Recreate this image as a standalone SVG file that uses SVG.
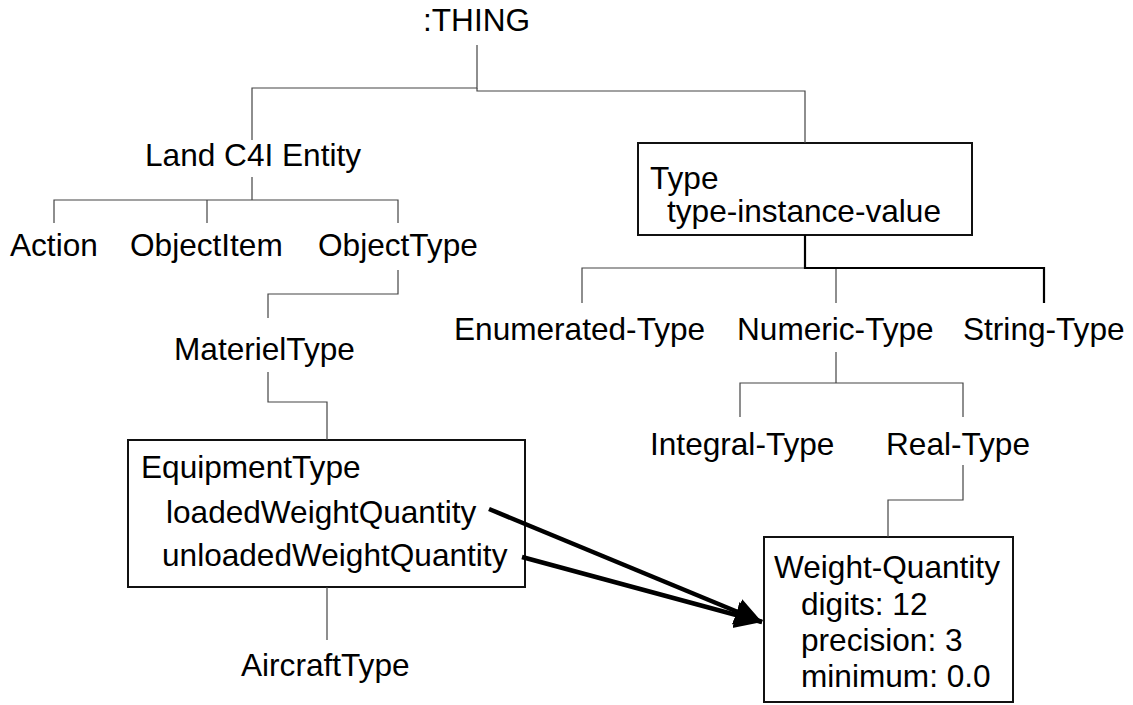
<svg xmlns="http://www.w3.org/2000/svg" width="1133" height="705" viewBox="0 0 1133 705">
  <style>
    text { font-family: "Liberation Sans", Arial, sans-serif; font-size: 31.6px; fill: #000; }
    .thin { fill: none; stroke: #444; stroke-width: 1.2; }
    .bold { fill: none; stroke: #000; stroke-width: 2.2; }
    .box { fill: #fff; stroke: #111; stroke-width: 2; }
    .ref { fill: none; stroke: #000; stroke-width: 4.5; }
  </style>
  <defs>
    <marker id="head" viewBox="0 0 10 10" refX="10" refY="5" markerWidth="6" markerHeight="6.5" markerUnits="strokeWidth" orient="auto">
      <path d="M0,0 L10,5 L0,10 Z" fill="#000"/>
    </marker>
  </defs>

  <rect width="1133" height="705" fill="#fff"/>

  <g id="thing"><text x="423" y="31">:THING</text></g>
  <g id="land-c4i-entity"><text x="145" y="166">Land C4I Entity</text></g>
  <g id="action"><text x="10" y="256">Action</text></g>
  <g id="object-item"><text x="130" y="256">ObjectItem</text></g>
  <g id="object-type"><text x="318" y="256">ObjectType</text></g>
  <g id="materiel-type"><text x="174" y="360">MaterielType</text></g>

  <g id="equipment-type">
    <rect class="box" x="128" y="440" width="397" height="147"/>
    <text x="141" y="478">EquipmentType</text>
    <text x="166" y="523">loadedWeightQuantity</text>
    <text x="162" y="566">unloadedWeightQuantity</text>
  </g>

  <g id="aircraft-type"><text x="241" y="676">AircraftType</text></g>

  <g id="type">
    <rect class="box" x="638" y="143" width="334" height="92"/>
    <text x="650" y="189">Type</text>
    <text x="667" y="222">type-instance-value</text>
  </g>

  <g id="enumerated-type"><text x="454" y="340">Enumerated-Type</text></g>
  <g id="numeric-type"><text x="737" y="340">Numeric-Type</text></g>
  <g id="string-type"><text x="963" y="340">String-Type</text></g>
  <g id="integral-type"><text x="650" y="455">Integral-Type</text></g>
  <g id="real-type"><text x="886" y="455">Real-Type</text></g>

  <g id="weight-quantity">
    <rect class="box" x="764" y="537" width="249" height="165"/>
    <text x="774" y="578">Weight-Quantity</text>
    <text x="801" y="615">digits: 12</text>
    <text x="801" y="651">precision: 3</text>
    <text x="801" y="687">minimum: 0.0</text>
  </g>

  <!-- hierarchy connectors and attribute references -->
  <g id="connectors">
    <path class="thin" d="M477,45 V88 H252 V140"/>
    <path class="thin" d="M477,88 V91 H805 V143"/>
    <path class="thin" d="M252,177 V200 M54,223 V200 H398 V223 M207,200 V223"/>
    <path class="thin" d="M398,270 V294 H268 V318"/>
    <path class="thin" d="M268,372 V402 H327 V440"/>
    <path class="thin" d="M327,587 V640"/>
    <path class="thin" d="M582,303 V268 H805 M836,268 V303"/>
    <path class="bold" d="M805,235 V268 H1044 V303"/>
    <path class="thin" d="M836,352 V383 M740,417 V383 H963 V417"/>
    <path class="thin" d="M963,465 V500 H888 V537"/>
    <line class="ref" x1="489" y1="509" x2="762" y2="622" marker-end="url(#head)"/>
    <line class="ref" x1="522" y1="557" x2="762" y2="622" marker-end="url(#head)"/>
  </g>
</svg>
